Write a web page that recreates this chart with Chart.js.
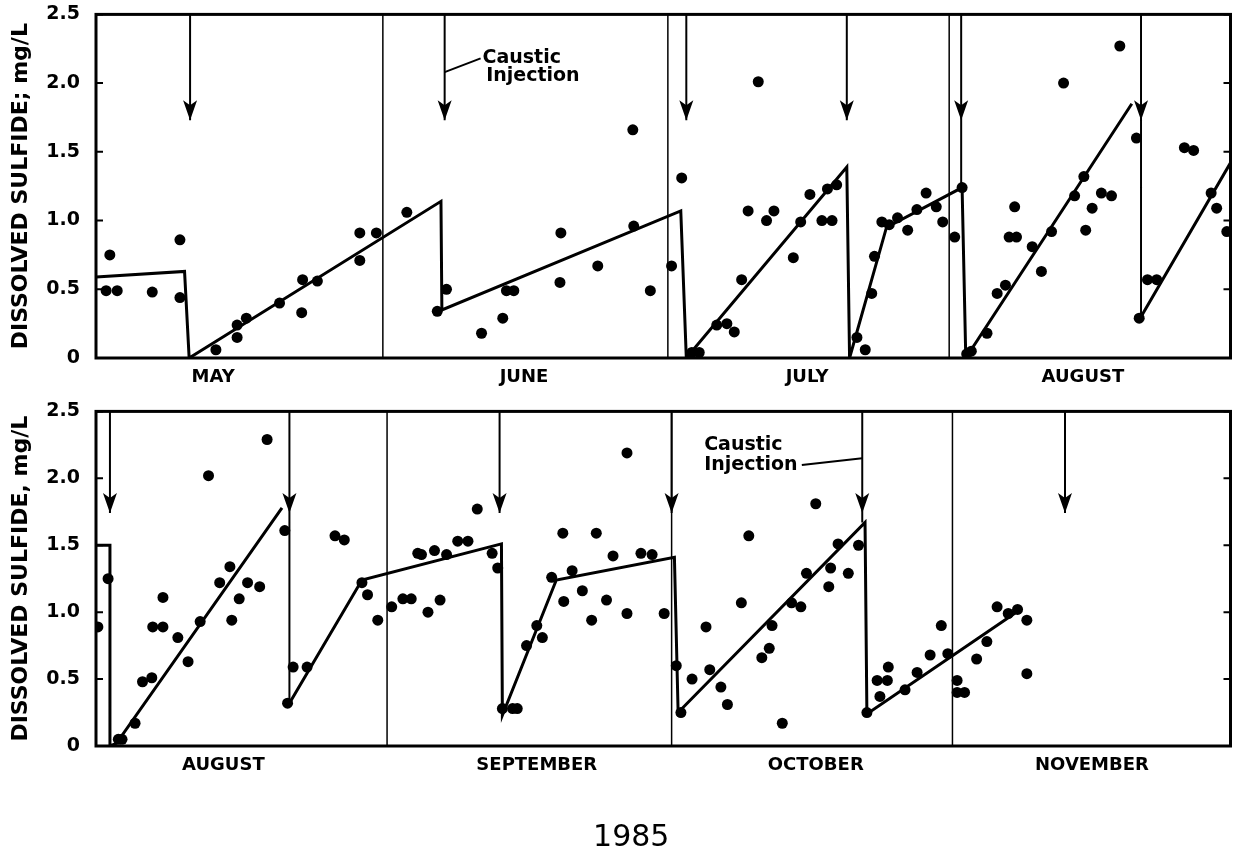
<!DOCTYPE html>
<html>
<head>
<meta charset="utf-8">
<script src="https://cdn.jsdelivr.net/npm/chart.js"></script>
<style>
    body { margin: 0; background: #fff; overflow: hidden; }
    #wrapTop { position: absolute; left: 0; top: -13px; width: 1236px; height: 408px; }
    #wrapBot { position: absolute; left: 0; top: 384px; width: 1236px; height: 476px; }
</style>
</head>
<body>
<div id="wrapTop"><canvas id="topChart"></canvas></div>
<div id="wrapBot"><canvas id="botChart"></canvas></div>
<script>
// x values are days from the first of the panel's first month (May 1 / Aug 1, 1985)
const topMonths = ['MAY', 'JUNE', 'JULY', 'AUGUST'];
const topMonthPos = [12.7, 46.4, 77.1, 107.0];
const topMonthLines = [31.1, 62.0, 92.5];
const topArrows = [10.2, 37.8, 64.0, 81.4, 93.8, 113.3];
const topShaftEnd = [1.73, 1.73, 1.73, 1.73, 1.24, 0.30];

const topDotDay = [1.5, 1.1, 2.3, 6.1, 9.1, 9.1, 13.0, 15.3, 15.3, 16.3, 19.9, 22.3, 22.4, 24.0, 28.6, 28.6, 30.4, 33.7,
    37.0, 38.0, 41.8, 44.1, 44.5, 45.3, 50.4, 50.3, 54.4, 58.3, 58.2, 60.1, 62.4, 63.5, 64.6, 65.4, 67.3, 68.4, 69.2,
    70.0, 70.7, 73.5, 72.7, 71.8, 75.6, 76.4, 77.4, 79.3, 80.3, 78.7, 79.8, 82.5, 83.4, 84.1, 84.4, 85.2, 86.0, 86.9,
    88.0, 89.0, 90.0, 91.1, 91.8, 93.1, 93.9, 94.4, 94.9, 96.6, 97.7, 98.6, 99.0, 99.8, 99.6, 101.5, 102.5, 103.6,
    104.9, 106.1, 107.1, 107.3, 108.0, 109.0, 110.1, 111.0, 112.8, 113.1, 114.0, 115.0, 118.0, 119.0, 120.9, 121.5, 122.6];
const topDotVal = [0.75, 0.49, 0.49, 0.48, 0.86, 0.44, 0.06, 0.15, 0.24, 0.29, 0.40, 0.33, 0.57, 0.56, 0.71, 0.91, 0.91, 1.06,
    0.34, 0.50, 0.18, 0.29, 0.49, 0.49, 0.91, 0.55, 0.67, 0.96, 1.66, 0.49, 0.67, 1.31, 0.04, 0.04, 0.24, 0.25, 0.19,
    0.57, 1.07, 1.07, 1.00, 2.01, 0.73, 0.99, 1.19, 1.23, 1.26, 1.00, 1.00, 0.15, 0.06, 0.47, 0.74, 0.99, 0.97, 1.02,
    0.93, 1.08, 1.20, 1.10, 0.99, 0.88, 1.24, 0.03, 0.05, 0.18, 0.47, 0.53, 0.88, 0.88, 1.10, 0.81, 0.63, 0.92,
    2.00, 1.18, 1.32, 0.93, 1.09, 1.20, 1.18, 2.27, 1.60, 0.29, 0.57, 0.57, 1.53, 1.51, 1.20, 1.09, 0.92];

const topFitDay = [0, 9.6, 10.1, 37.4, 37.5, 63.4, 64.0, 81.4, 81.7, 85.7, 93.9, 94.3, 112.3, 112.8, 113.3, 123];
const topFitVal = [0.59, 0.63, 0.0, 1.14, 0.35, 1.07, 0.0, 1.39, 0.0, 0.95, 1.24, 0.0, 1.85, null, 0.30, 1.42];

const topNoteDay = [41.9, 42.3];
const topNoteVal = [2.18, 2.05];
const topNoteText = ['Caustic', 'Injection'];
const topLeaderDay = [37.8, 41.7];
const topLeaderVal = [2.08, 2.18];

const botMonths = ['AUGUST', 'SEPTEMBER', 'OCTOBER', 'NOVEMBER'];
const botMonthPos = [13.7, 47.4, 77.4, 107.1];
const botMonthLines = [31.3, 61.9, 92.1];
const botArrows = [1.5, 20.8, 43.4, 61.9, 82.4, 104.2];
const botShaftEnd = [1.74, 0.32, 1.74, 1.74, 1.67, 1.74];

const botDotDay = [0.2, 1.3, 2.4, 2.8, 4.2, 5.0, 6.0, 6.1, 7.2, 7.2, 8.8, 9.9, 11.2, 12.1, 13.3, 14.4, 14.6, 15.4, 16.3,
    17.6, 18.4, 20.3, 20.6, 21.2, 22.7, 25.7, 26.7, 28.6, 29.2, 30.3, 31.8, 33.0, 33.9, 34.6,
    35.0, 36.4, 37.7, 38.9, 40.0, 35.7, 37.0, 41.0, 42.6, 43.2, 43.7, 44.8, 45.3, 46.3, 47.4, 48.0, 49.0, 50.2, 50.3,
    51.2, 52.3, 53.3, 53.8, 54.9, 55.6, 57.1, 57.1, 58.6, 59.8, 61.1, 62.4, 62.9, 64.1, 65.6, 66.0, 67.2, 67.9, 69.4,
    70.2, 71.6, 72.4, 72.7, 73.8, 74.8, 75.8, 76.4, 77.4,
    78.8, 79.0, 79.8, 80.9, 82.0, 82.9, 84.0, 85.1, 85.2, 84.3, 87.0, 88.3, 89.7, 90.9, 91.6, 92.6, 92.6, 93.4, 94.7,
    95.8, 96.9, 98.1, 99.1, 100.1, 100.1];
const botDotVal = [0.89, 1.25, 0.05, 0.05, 0.17, 0.48, 0.51, 0.89, 0.89, 1.11, 0.81, 0.63, 0.93, 2.02, 1.22, 1.34, 0.94, 1.10, 1.22,
    1.19, 2.29, 1.61, 0.32, 0.59, 0.59, 1.57, 1.54, 1.22, 1.13, 0.94, 1.04, 1.10, 1.10, 1.44,
    1.43, 1.46, 1.43, 1.53, 1.53, 1.00, 1.09, 1.77, 1.44, 1.33, 0.28, 0.28, 0.28, 0.75, 0.90, 0.81, 1.26, 1.59, 1.08,
    1.31, 1.16, 0.94, 1.59, 1.09, 1.42, 2.19, 0.99, 1.44, 1.43, 0.99, 0.60, 0.25, 0.50, 0.89, 0.57, 0.44, 0.31, 1.07,
    1.57, 0.66, 0.73, 0.90, 0.17, 1.07, 1.04, 1.29, 1.81,
    1.19, 1.33, 1.51, 1.29, 1.50, 0.25, 0.49, 0.49, 0.59, 0.37, 0.42, 0.55, 0.68, 0.90, 0.69, 0.49, 0.40, 0.40, 0.65,
    0.78, 1.04, 0.99, 1.02, 0.94, 0.54];

const botFitDay = [0, 1.5, 1.5, 2.2, 20.0, 20.4, 20.8, 28.6, 43.6, 43.7, 49.5, 62.2, 62.6, 82.7, 82.9, 99.6];
const botFitVal = [1.50, 1.50, 0.0, 0.02, 1.78, null, 0.32, 1.24, 1.51, 0.23, 1.24, 1.41, 0.25, 1.67, 0.24, 1.03];

const botNoteDay = [65.4, 65.4];
const botNoteVal = [2.25, 2.10];
const botNoteText = ['Caustic', 'Injection'];
const botLeaderDay = [75.9, 82.4];
const botLeaderVal = [2.10, 2.15];

const yearLabel = '1985';

Chart.defaults.font.family = '"DejaVu Sans", sans-serif';
Chart.defaults.color = '#000';

function pts(xs, ys) { return xs.map((x, i) => ({ x, y: ys[i] })); }
function vlines(xs, from, to) {
    return xs.flatMap((x, i) => [{ x, y: from }, { x, y: Array.isArray(to) ? to[i] : to }, { x, y: null }]);
}

// frame, inward ticks, arrowheads, the "Caustic Injection" notes and the year caption
const overlay = {
    id: 'overlay',
    afterDatasetsDraw(chart, args, opts) {
        const { ctx, chartArea: a, scales: { x, y } } = chart;
        ctx.save();
        ctx.strokeStyle = '#000';
        ctx.fillStyle = '#000';
        ctx.lineWidth = 3;
        ctx.strokeRect(a.left, a.top, a.right - a.left, a.bottom - a.top);
        ctx.lineWidth = 2;
        y.ticks.forEach(t => {
            const py = y.getPixelForValue(t.value);
            ctx.beginPath();
            ctx.moveTo(a.left, py); ctx.lineTo(a.left + 7, py);
            ctx.moveTo(a.right, py); ctx.lineTo(a.right - 7, py);
            ctx.stroke();
        });
        const tip = y.getPixelForValue(opts.tip);
        opts.arrows.forEach(d => {
            const px = x.getPixelForValue(d);
            ctx.beginPath();
            ctx.moveTo(px, tip);
            ctx.lineTo(px - 7, tip - 20);
            ctx.lineTo(px, tip - 15);
            ctx.lineTo(px + 7, tip - 20);
            ctx.closePath();
            ctx.fill();
        });
        ctx.font = 'bold 19px "DejaVu Sans", sans-serif';
        ctx.textAlign = 'left';
        ctx.textBaseline = 'middle';
        opts.noteText.forEach((t, i) => {
            ctx.fillText(t, x.getPixelForValue(opts.noteDay[i]), y.getPixelForValue(opts.noteVal[i]));
        });
        if (opts.caption) {
            ctx.font = '30px "DejaVu Sans", sans-serif';
            ctx.textAlign = 'center';
            ctx.fillText(opts.caption, (a.left + a.right) / 2 - 32, a.bottom + 92);
        }
        ctx.restore();
    }
};

function makePanel(id, p) {
    const datasets = [
        { data: pts(p.dotDay, p.dotVal), showLine: false, pointRadius: 5.5, backgroundColor: '#000', borderWidth: 0 },
        { data: pts(p.fitDay, p.fitVal), showLine: true, spanGaps: false, pointRadius: 0, borderColor: '#000', borderWidth: 3, borderJoinStyle: 'miter' },
        { data: vlines(p.monthLines, 0, 2.5), showLine: true, spanGaps: false, pointRadius: 0, borderColor: '#000', borderWidth: 1.5 },
        { data: vlines(p.arrows, 2.5, p.shaftEnd), showLine: true, spanGaps: false, pointRadius: 0, borderColor: '#000', borderWidth: 2 },
        { data: pts(p.leaderDay, p.leaderVal), showLine: true, pointRadius: 0, borderColor: '#000', borderWidth: 2 }
    ];
    return new Chart(document.getElementById(id), {
        type: 'scatter',
        data: { datasets },
        plugins: [overlay],
        options: {
            responsive: true, maintainAspectRatio: false,
            animation: false, events: [],
            layout: { padding: { top: 0, right: 4, left: 0, bottom: 0 } },
            plugins: {
                legend: { display: false }, tooltip: { enabled: false },
                overlay: { arrows: p.arrows, tip: p.tip, noteDay: p.noteDay, noteVal: p.noteVal, noteText: p.noteText, caption: p.caption }
            },
            scales: {
                x: {
                    type: 'linear', min: 0, max: p.maxDay,
                    grid: { display: false, drawTicks: false }, border: { display: false },
                    afterBuildTicks: ax => { ax.ticks = p.monthPos.map(v => ({ value: v })); },
                    afterFit: ax => { ax.height = p.xHeight; },
                    ticks: { autoSkip: false, maxRotation: 0, padding: 9, font: { size: 18, weight: 'bold' },
                        callback: (v, i) => p.months[i] }
                },
                y: {
                    min: 0, max: 2.5,
                    grid: { display: false, drawTicks: false }, border: { display: false },
                    afterFit: ax => { ax.width = 96; },
                    ticks: { stepSize: 0.5, padding: 16, font: { size: 19, weight: 'bold' },
                        callback: v => v === 0 ? '0' : v.toFixed(1) },
                    title: { display: true, text: p.yTitle, font: { size: 22, weight: 'bold' }, padding: { top: 8, bottom: 0 } }
                }
            }
        }
    });
}

makePanel('topChart', {
    dotDay: topDotDay, dotVal: topDotVal, fitDay: topFitDay, fitVal: topFitVal,
    monthLines: topMonthLines, arrows: topArrows, shaftEnd: topShaftEnd, tip: 1.73,
    leaderDay: topLeaderDay, leaderVal: topLeaderVal,
    noteDay: topNoteDay, noteVal: topNoteVal, noteText: topNoteText,
    months: topMonths, monthPos: topMonthPos, maxDay: 123,
    xHeight: 37, caption: '', yTitle: 'DISSOLVED SULFIDE; mg/L'
});

makePanel('botChart', {
    dotDay: botDotDay, dotVal: botDotVal, fitDay: botFitDay, fitVal: botFitVal,
    monthLines: botMonthLines, arrows: botArrows, shaftEnd: botShaftEnd, tip: 1.74,
    leaderDay: botLeaderDay, leaderVal: botLeaderVal,
    noteDay: botNoteDay, noteVal: botNoteVal, noteText: botNoteText,
    months: botMonths, monthPos: botMonthPos, maxDay: 122,
    xHeight: 114, caption: yearLabel, yTitle: 'DISSOLVED SULFIDE, mg/L'
});
</script>
</body>
</html>
